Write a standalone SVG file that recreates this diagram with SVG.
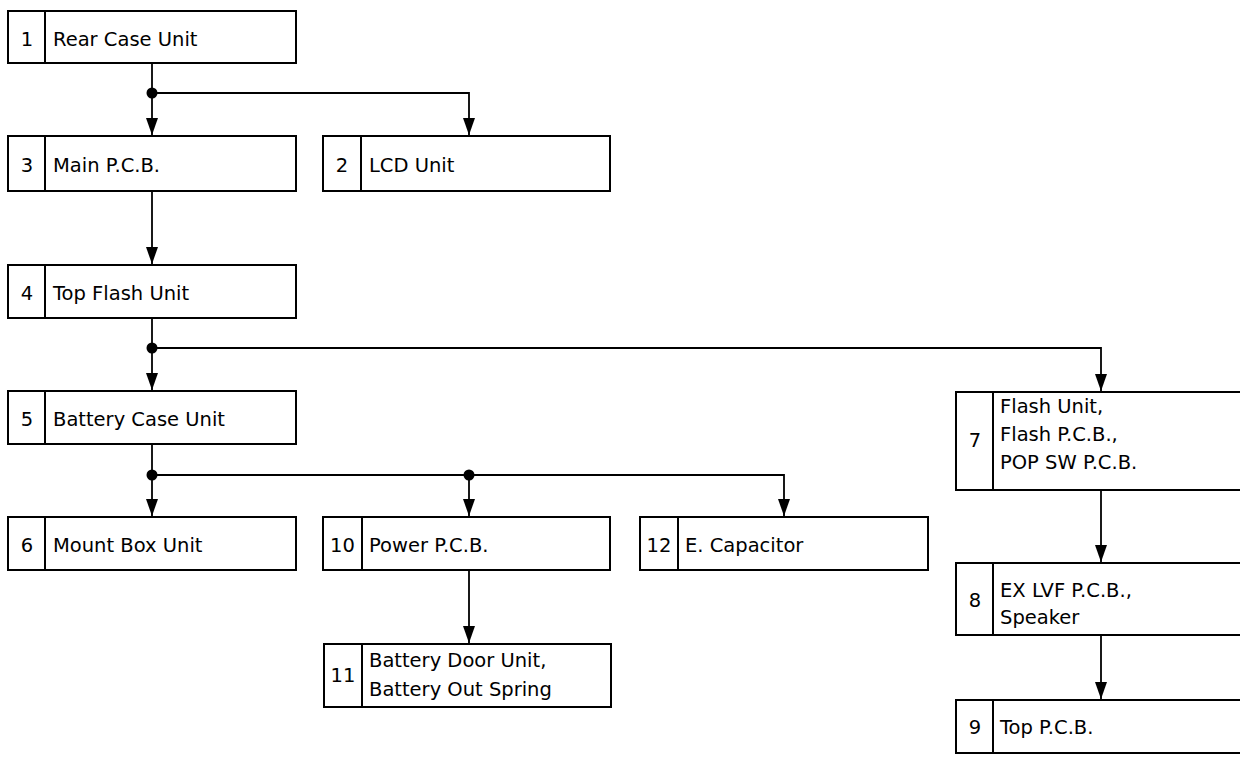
<svg xmlns="http://www.w3.org/2000/svg" width="1240" height="760" viewBox="0 0 1240 760">
<defs>
<style>
.box{fill:#fff;stroke:#000;stroke-width:2}
.div{stroke:#000;stroke-width:2}
.t{font-family:"DejaVu Sans","Liberation Sans",sans-serif;font-size:19.5px;fill:#000}
.n{font-family:"DejaVu Sans","Liberation Sans",sans-serif;font-size:19.5px;fill:#000;text-anchor:middle}
.c{fill:none;stroke:#000;stroke-width:1.8}
.dot{fill:#000}
</style>
<marker id="arr" markerWidth="17" markerHeight="12" refX="17" refY="6" orient="auto" markerUnits="userSpaceOnUse" viewBox="0 0 17 12">
<path d="M0,0 L17,6 L0,12 Z" fill="#000"/>
</marker>
</defs>
<rect width="1240" height="760" fill="#fff"/>
<g id="connectors">
<path class="c" d="M152,63 V135" marker-end="url(#arr)"/>
<path class="c" d="M152,93 H469 V135" marker-end="url(#arr)"/>
<path class="c" d="M152,191 V264" marker-end="url(#arr)"/>
<path class="c" d="M152,318 V390" marker-end="url(#arr)"/>
<path class="c" d="M152,348 H1101 V391" marker-end="url(#arr)"/>
<path class="c" d="M152,444 V516" marker-end="url(#arr)"/>
<path class="c" d="M152,475 H784 V516" marker-end="url(#arr)"/>
<path class="c" d="M469,475 V516" marker-end="url(#arr)"/>
<path class="c" d="M469,570 V643" marker-end="url(#arr)"/>
<path class="c" d="M1101,490 V562" marker-end="url(#arr)"/>
<path class="c" d="M1101,635 V699" marker-end="url(#arr)"/>
<circle class="dot" cx="152" cy="93" r="5.5"/>
<circle class="dot" cx="152" cy="348" r="5.5"/>
<circle class="dot" cx="152" cy="475" r="5.5"/>
<circle class="dot" cx="469" cy="475" r="5.5"/>
</g>
<g id="n1"><rect class="box" x="8" y="11" width="288" height="52"/><line class="div" x1="45" y1="11" x2="45" y2="63"/><text class="n" x="27" y="46">1</text><text class="t" x="53" y="46">Rear Case Unit</text></g>
<g id="n3"><rect class="box" x="8" y="136" width="288" height="55"/><line class="div" x1="45" y1="136" x2="45" y2="191"/><text class="n" x="27" y="172">3</text><text class="t" x="53" y="172">Main P.C.B.</text></g>
<g id="n2"><rect class="box" x="323" y="136" width="287" height="55"/><line class="div" x1="361" y1="136" x2="361" y2="191"/><text class="n" x="342" y="172">2</text><text class="t" x="369" y="172">LCD Unit</text></g>
<g id="n4"><rect class="box" x="8" y="265" width="288" height="53"/><line class="div" x1="45" y1="265" x2="45" y2="318"/><text class="n" x="27" y="300">4</text><text class="t" x="53" y="300">Top Flash Unit</text></g>
<g id="n5"><rect class="box" x="8" y="391" width="288" height="53"/><line class="div" x1="45" y1="391" x2="45" y2="444"/><text class="n" x="27" y="426">5</text><text class="t" x="53" y="426">Battery Case Unit</text></g>
<g id="n6"><rect class="box" x="8" y="517" width="288" height="53"/><line class="div" x1="45" y1="517" x2="45" y2="570"/><text class="n" x="27" y="552">6</text><text class="t" x="53" y="552">Mount Box Unit</text></g>
<g id="n10"><rect class="box" x="323" y="517" width="287" height="53"/><line class="div" x1="362" y1="517" x2="362" y2="570"/><text class="n" x="342.5" y="552">10</text><text class="t" x="369" y="552">Power P.C.B.</text></g>
<g id="n12"><rect class="box" x="640" y="517" width="288" height="53"/><line class="div" x1="678" y1="517" x2="678" y2="570"/><text class="n" x="659" y="552">12</text><text class="t" x="685" y="552">E. Capacitor</text></g>
<g id="n11"><rect class="box" x="324" y="644" width="287" height="63"/><line class="div" x1="362" y1="644" x2="362" y2="707"/><text class="n" x="343" y="682">11</text><text class="t" x="369" y="667">Battery Door Unit,</text><text class="t" x="369" y="696">Battery Out Spring</text></g>
<g id="n7"><rect class="box" x="956" y="392" width="290" height="98"/><line class="div" x1="993" y1="392" x2="993" y2="490"/><text class="n" x="975" y="447">7</text><text class="t" x="1000" y="413">Flash Unit,</text><text class="t" x="1000" y="441">Flash P.C.B.,</text><text class="t" x="1000" y="469">POP SW P.C.B.</text></g>
<g id="n8"><rect class="box" x="956" y="563" width="290" height="72"/><line class="div" x1="993" y1="563" x2="993" y2="635"/><text class="n" x="975" y="607">8</text><text class="t" x="1000" y="597">EX LVF P.C.B.,</text><text class="t" x="1000" y="624">Speaker</text></g>
<g id="n9"><rect class="box" x="956" y="700" width="290" height="53"/><line class="div" x1="993" y1="700" x2="993" y2="753"/><text class="n" x="975" y="734">9</text><text class="t" x="1000" y="734">Top P.C.B.</text></g>
</svg>
